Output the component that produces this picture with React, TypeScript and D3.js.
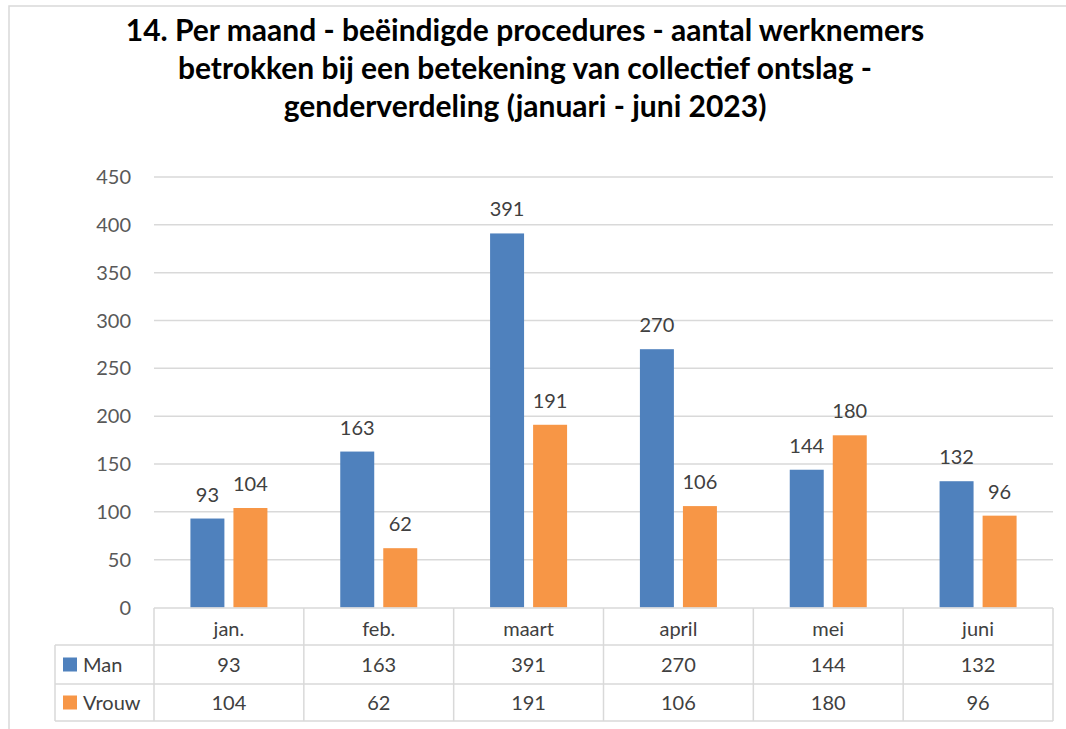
import React from "react";
import * as d3 from "d3";

const titleLines = [
  "14. Per maand - beëindigde procedures - aantal werknemers",
  "betrokken bij een betekening van collectief ontslag -",
  "genderverdeling (januari - juni 2023)",
];
const months = ["jan.", "feb.", "maart", "april", "mei", "juni"];
const seriesNames = ["Man", "Vrouw"];
const man = [93, 163, 391, 270, 144, 132];
const vrouw = [104, 62, 191, 106, 180, 96];
const yTicks = [0, 50, 100, 150, 200, 250, 300, 350, 400, 450];

const colors = ["#4F81BD", "#F79646"];
const grid = "#D9D9D9";
const font = "Lato, 'Open Sans', sans-serif";

const App = () => {
  const width = 1066;
  const height = 729;
  const plotLeft = 154;
  const plotRight = 1053;
  const plotTop = 177;
  const plotBottom = 607.5;
  const labelCol = 55;
  const rowHead = [608, 645];
  const rowMan = [645, 684];
  const rowVrouw = [684, 721];

  const x = d3.scaleBand<string>().domain(months).range([plotLeft, plotRight]);
  const groupW = 77;
  const inner = d3
    .scaleBand<string>()
    .domain(seriesNames)
    .range([0, groupW])
    .paddingInner(0.21);
  const y = d3.scaleLinear().domain([0, 450]).range([plotBottom, plotTop]);

  const series = [man, vrouw];
  const bounds = [...months.map((m) => x(m)!), plotRight];

  return (
    <svg
      width={width}
      height={height}
      style={{ position: "absolute", left: 0, top: 0, background: "#fff" }}
    >
      <rect x={9} y={6} width={1100} height={800} fill="#fff" stroke={grid} strokeWidth={1.5} />

      {titleLines.map((t, i) => (
        <text
          key={i}
          x={525}
          y={41 + i * 38}
          textAnchor="middle"
          fontFamily={font}
          fontWeight="bold"
          fontSize={30}
          fill="#000"
        >
          {t}
        </text>
      ))}

      {yTicks.map((t) => (
        <g key={t}>
          {t > 0 && (
            <line x1={plotLeft} x2={plotRight} y1={y(t)} y2={y(t)} stroke={grid} strokeWidth={1.5} />
          )}
          <text
            x={131}
            y={y(t) + 7}
            textAnchor="end"
            fontFamily={font}
            fontSize={20}
            fill="#595959"
          >
            {t}
          </text>
        </g>
      ))}

      {months.map((m, i) => {
        const gx = x(m)! + (x.bandwidth() - groupW) / 2;
        return (
          <g key={m}>
            {seriesNames.map((s, j) => {
              const v = series[j][i];
              const bx = gx + inner(s)!;
              return (
                <g key={s}>
                  <rect
                    x={bx}
                    y={y(v)}
                    width={inner.bandwidth()}
                    height={plotBottom - y(v)}
                    fill={colors[j]}
                  />
                  <text
                    x={bx + inner.bandwidth() / 2}
                    y={y(v) - 17}
                    textAnchor="middle"
                    fontFamily={font}
                    fontSize={20}
                    fill="#404040"
                  >
                    {v}
                  </text>
                </g>
              );
            })}
          </g>
        );
      })}

      {/* data table */}
      <g stroke={grid} strokeWidth={1.5}>
        <line x1={plotLeft} x2={plotRight} y1={rowHead[0]} y2={rowHead[0]} />
        <line x1={labelCol} x2={plotRight} y1={rowMan[0]} y2={rowMan[0]} />
        <line x1={labelCol} x2={plotRight} y1={rowVrouw[0]} y2={rowVrouw[0]} />
        <line x1={labelCol} x2={plotRight} y1={rowVrouw[1]} y2={rowVrouw[1]} />
        <line x1={labelCol} x2={labelCol} y1={rowMan[0]} y2={rowVrouw[1]} />
        {bounds.map((b, i) => (
          <line key={i} x1={b} x2={b} y1={rowHead[0]} y2={rowVrouw[1]} />
        ))}
      </g>

      {months.map((m) => (
        <text
          key={m}
          x={x(m)! + x.bandwidth() / 2}
          y={636}
          textAnchor="middle"
          fontFamily={font}
          fontSize={20}
          fill="#404040"
        >
          {m}
        </text>
      ))}

      {seriesNames.map((s, j) => {
        const row = j === 0 ? rowMan : rowVrouw;
        const mid = (row[0] + row[1]) / 2;
        return (
          <g key={s}>
            <rect x={63} y={mid - 7} width={14} height={14} fill={colors[j]} />
            <text x={83} y={mid + 7} fontFamily={font} fontSize={20} fill="#404040">
              {s}
            </text>
            {months.map((m, i) => (
              <text
                key={m}
                x={x(m)! + x.bandwidth() / 2}
                y={mid + 7}
                textAnchor="middle"
                fontFamily={font}
                fontSize={20}
                fill="#404040"
              >
                {series[j][i]}
              </text>
            ))}
          </g>
        );
      })}
    </svg>
  );
};

export default App;
